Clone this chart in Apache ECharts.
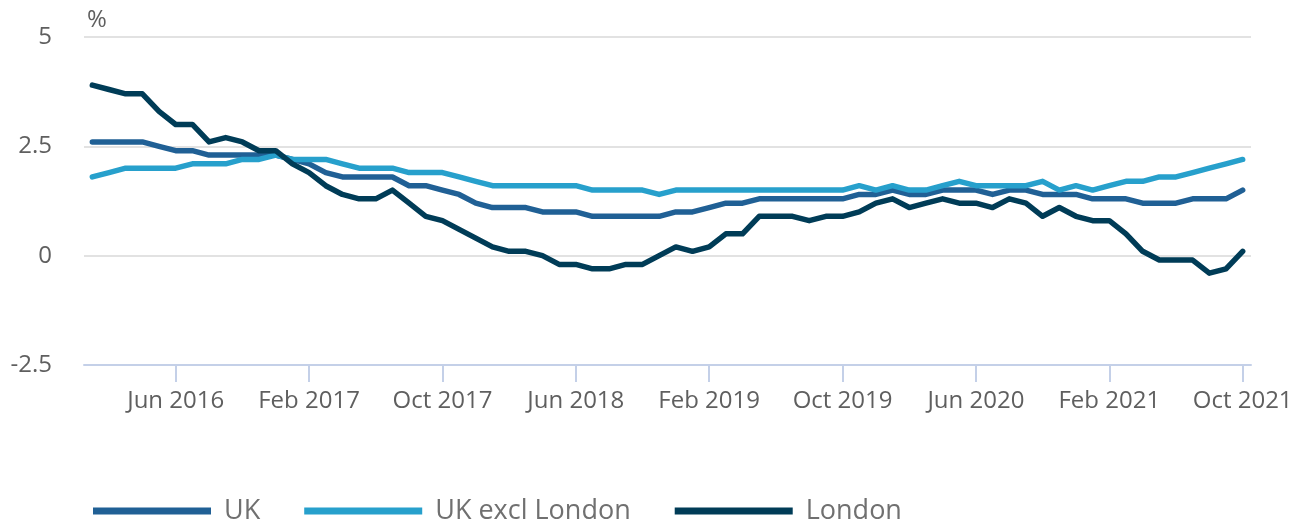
<!DOCTYPE html>
<html>
<head>
<meta charset="utf-8">
<script src="https://cdn.jsdelivr.net/npm/echarts@6/dist/echarts.min.js"></script>
<style>
html,body{margin:0;padding:0;background:#fff;}
#chart{width:1304px;height:522px;}
</style>
</head>
<body>
<div id="chart"></div>
<script>
const monthNames = ['Jan','Feb','Mar','Apr','May','Jun','Jul','Aug','Sep','Oct','Nov','Dec'];
const startYear = 2016;
const monthCount = 70;
const categories = [];
for (let i = 0; i < monthCount; i++) {
  categories.push(monthNames[i % 12] + ' ' + (startYear + Math.floor(i / 12)));
}
const seriesNames = ['UK', 'UK excl London', 'London'];
const ukValues = [2.6,2.6,2.6,2.6,2.5,2.4,2.4,2.3,2.3,2.3,
  2.3,2.3,2.2,2.1,1.9,1.8,1.8,1.8,1.8,1.6,
  1.6,1.5,1.4,1.2,1.1,1.1,1.1,1.0,1.0,1.0,
  0.9,0.9,0.9,0.9,0.9,1.0,1.0,1.1,1.2,1.2,
  1.3,1.3,1.3,1.3,1.3,1.3,1.4,1.4,1.5,1.4,
  1.4,1.5,1.5,1.5,1.4,1.5,1.5,1.4,1.4,1.4,
  1.3,1.3,1.3,1.2,1.2,1.2,1.3,1.3,1.3,1.5];
const ukExclLondonValues = [1.8,1.9,2.0,2.0,2.0,2.0,2.1,2.1,2.1,2.2,
  2.2,2.3,2.2,2.2,2.2,2.1,2.0,2.0,2.0,1.9,
  1.9,1.9,1.8,1.7,1.6,1.6,1.6,1.6,1.6,1.6,
  1.5,1.5,1.5,1.5,1.4,1.5,1.5,1.5,1.5,1.5,
  1.5,1.5,1.5,1.5,1.5,1.5,1.6,1.5,1.6,1.5,
  1.5,1.6,1.7,1.6,1.6,1.6,1.6,1.7,1.5,1.6,
  1.5,1.6,1.7,1.7,1.8,1.8,1.9,2.0,2.1,2.2];
const londonValues = [3.9,3.8,3.7,3.7,3.3,3.0,3.0,2.6,2.7,2.6,
  2.4,2.4,2.1,1.9,1.6,1.4,1.3,1.3,1.5,1.2,
  0.9,0.8,0.6,0.4,0.2,0.1,0.1,0.0,-0.2,-0.2,
  -0.3,-0.3,-0.2,-0.2,0.0,0.2,0.1,0.2,0.5,0.5,
  0.9,0.9,0.9,0.8,0.9,0.9,1.0,1.2,1.3,1.1,
  1.2,1.3,1.2,1.2,1.1,1.3,1.2,0.9,1.1,0.9,
  0.8,0.8,0.5,0.1,-0.1,-0.1,-0.1,-0.4,-0.3,0.1];
const yTicks = [-2.5, 0, 2.5, 5];
const colors = ['#206095', '#27a0cc', '#003c57'];
const labelEvery = 8, labelOffset = 5;

const chart = echarts.init(document.getElementById('chart'), null, {renderer: 'canvas'});
const showIdx = (i) => (i % labelEvery) === labelOffset;
const font = '"Open Sans", "Noto Sans", sans-serif';
const valuesList = [ukValues, ukExclLondonValues, londonValues];

chart.setOption({
  animation: false,
  color: colors,
  grid: {left: 84, right: 53, top: 37, bottom: 157, containLabel: false},
  legend: {
    left: 88, top: 491, padding: 5,
    itemWidth: 118, itemHeight: 7, itemGap: 44,
    icon: 'rect',
    textStyle: {fontFamily: font, fontSize: 27, color: '#707070', padding: [0,0,0,8], lineHeight: 30},
    data: seriesNames
  },
  xAxis: {
    type: 'category',
    data: categories,
    boundaryGap: true,
    axisLine: {onZero: false, lineStyle: {color: '#c4d0e8', width: 2}},
    axisTick: {show: true, alignWithLabel: true, interval: (i) => showIdx(i), length: 17, lineStyle: {color: '#c4d0e8', width: 2}},
    axisLabel: {interval: (i) => showIdx(i), margin: 24, fontFamily: font, fontSize: 24, color: '#5f5f5f'},
    splitLine: {show: false}
  },
  yAxis: {
    type: 'value',
    min: yTicks[0], max: yTicks[yTicks.length - 1], interval: 2.5,
    name: '%', nameLocation: 'end', nameGap: 5,
    nameTextStyle: {fontFamily: font, fontSize: 24, color: '#5f5f5f', align: 'left', padding: [0,0,0,3]},
    axisLine: {show: false}, axisTick: {show: false},
    axisLabel: {margin: 32, fontFamily: font, fontSize: 24, color: '#5f5f5f'},
    splitLine: {lineStyle: {color: '#e2e2e2', width: 2}}
  },
  series: seriesNames.map((n, k) => ({
    name: n, type: 'line', data: valuesList[k],
    showSymbol: false, symbol: 'none',
    lineStyle: {width: 5.5, color: colors[k], join: 'round', cap: 'round'},
    itemStyle: {color: colors[k]}
  }))
});
</script>
</body>
</html>
